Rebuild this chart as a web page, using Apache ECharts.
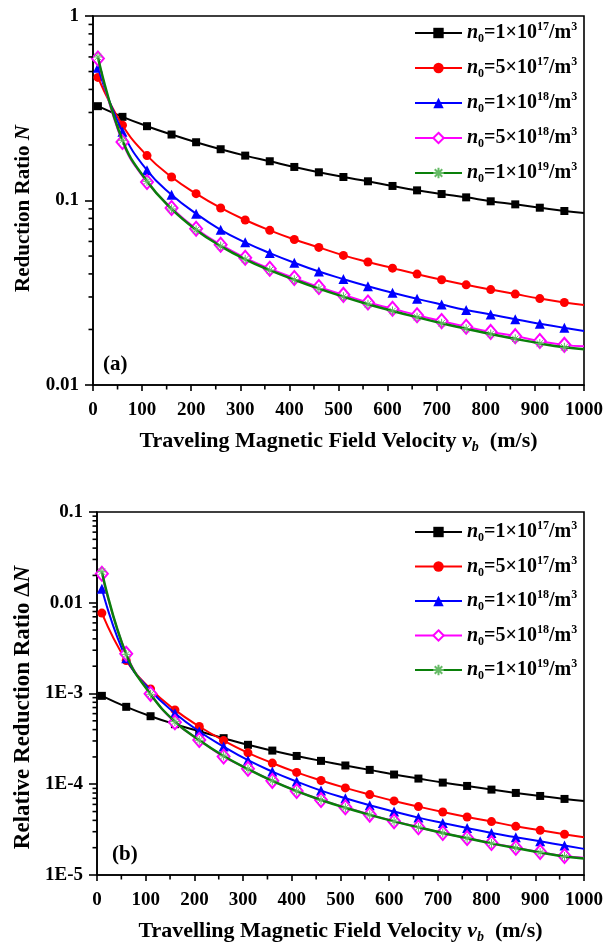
<!DOCTYPE html>
<html>
<head>
<meta charset="utf-8">
<script src="https://cdn.jsdelivr.net/npm/echarts@6/dist/echarts.min.js"></script>
<style>
  html, body { margin: 0; padding: 0; background: #fff; }
  #chart { width: 606px; height: 945px; }
</style>
</head>
<body>
<div id="chart"></div>
<script>
// Travelling magnetic field velocity v_b (m/s); markers every 50 m/s from 10, curve ends at 1000
const xValues = [10, 60, 110, 160, 210, 260, 310, 360, 410, 460, 510, 560, 610, 660, 710, 760, 810, 860, 910, 960, 1000];

// Legend entries: plasma density n0 (mantissa, exponent)
const densityMantissa = ['1', '5', '1', '5', '1'];
const densityExponent = ['17', '17', '18', '18', '19'];

// (a) Reduction ratio N
const ratioN_1e17 = [0.3245, 0.284, 0.2528, 0.2278, 0.2069, 0.1896, 0.1751, 0.1632, 0.1520, 0.1422, 0.1341, 0.1271, 0.1199, 0.1135, 0.1084, 0.1040, 0.0990, 0.0953, 0.0914, 0.0877, 0.0855];
const ratioN_5e17 = [0.4645, 0.256, 0.1751, 0.1341, 0.1089, 0.0911, 0.0784, 0.0689, 0.0615, 0.0557, 0.0504, 0.0464, 0.0430, 0.0399, 0.0372, 0.0349, 0.0329, 0.0311, 0.0294, 0.0280, 0.0271];
const ratioN_1e18 = [0.524, 0.2355, 0.1458, 0.1075, 0.0848, 0.0694, 0.0593, 0.0519, 0.0460, 0.0412, 0.0375, 0.0343, 0.0316, 0.0293, 0.0273, 0.0255, 0.0241, 0.0227, 0.0215, 0.0204, 0.0196];
const ratioN_5e18 = [0.589, 0.2077, 0.126, 0.0911, 0.0703, 0.0576, 0.0489, 0.0427, 0.0380, 0.0340, 0.0308, 0.0280, 0.0259, 0.0239, 0.0222, 0.0207, 0.0194, 0.0184, 0.0173, 0.0165, 0.0162];
const ratioN_1e19 = [0.600, 0.212, 0.127, 0.0900, 0.0693, 0.0566, 0.0480, 0.0419, 0.0372, 0.0333, 0.0301, 0.0274, 0.0252, 0.0233, 0.0216, 0.0202, 0.0189, 0.0178, 0.0168, 0.0160, 0.0156];

// (b) Relative reduction ratio ΔN
const deltaN_1e17 = [9.42e-4, 7.13e-4, 5.62e-4, 4.59e-4, 3.84e-4, 3.22e-4, 2.72e-4, 2.35e-4, 2.05e-4, 1.81e-4, 1.61e-4, 1.44e-4, 1.28e-4, 1.155e-4, 1.043e-4, 9.58e-5, 8.73e-5, 8.02e-5, 7.43e-5, 6.89e-5, 6.55e-5];
const deltaN_5e17 = [7.69e-3, 2.31e-3, 1.12e-3, 6.6e-4, 4.33e-4, 3.03e-4, 2.22e-4, 1.71e-4, 1.35e-4, 1.10e-4, 9.12e-5, 7.69e-5, 6.55e-5, 5.67e-5, 4.95e-5, 4.36e-5, 3.88e-5, 3.44e-5, 3.11e-5, 2.81e-5, 2.60e-5];
const deltaN_1e18 = [1.427e-2, 2.45e-3, 1.08e-3, 6.07e-4, 3.81e-4, 2.60e-4, 1.84e-4, 1.38e-4, 1.07e-4, 8.51e-5, 7.01e-5, 5.87e-5, 5.0e-5, 4.29e-5, 3.75e-5, 3.30e-5, 2.90e-5, 2.60e-5, 2.35e-5, 2.11e-5, 1.94e-5];
const deltaN_5e18 = [2.09e-2, 2.74e-3, 9.91e-4, 4.83e-4, 3.08e-4, 2.02e-4, 1.48e-4, 1.09e-4, 8.44e-5, 6.71e-5, 5.57e-5, 4.63e-5, 3.91e-5, 3.36e-5, 2.90e-5, 2.56e-5, 2.25e-5, 2.0e-5, 1.79e-5, 1.62e-5, 1.55e-5];
const deltaN_1e19 = [2.2e-2, 2.7e-3, 9.8e-4, 4.9e-4, 3.05e-4, 2.05e-4, 1.47e-4, 1.09e-4, 8.4e-5, 6.7e-5, 5.5e-5, 4.6e-5, 3.9e-5, 3.35e-5, 2.9e-5, 2.54e-5, 2.23e-5, 1.98e-5, 1.77e-5, 1.60e-5, 1.52e-5];

// Decade tick labels, lowest first
const topTickLabels = ['0.01', '0.1', '1'];
const bottomTickLabels = ['1E-5', '1E-4', '1E-3', '0.01', '0.1'];
const xTickStep = 100;

const SERIF = '"Liberation Serif", "Times New Roman", serif';
const asterisk = 'path://M0,-5L0,5M-5,0L5,0M-3.6,-3.6L3.6,3.6M-3.6,3.6L3.6,-3.6';

const styles = [
  { color: '#000000', symbol: 'rect', symbolSize: 8, width: 2 },
  { color: '#ff0000', symbol: 'circle', symbolSize: 9, width: 2 },
  { color: '#0000ff', symbol: 'triangle', symbolSize: 10, width: 2 },
  { color: '#ff00ff', symbol: 'emptyDiamond', symbolSize: [12, 14], width: 2 },
  { color: '#0a800a', symbol: asterisk, symbolSize: 9, width: 2.5, markColor: '#66bb66' }
];

const seriesNames = densityMantissa.map((m, i) => 'n0=' + m + '×10^' + densityExponent[i] + '/m^3');

function richName(name) {
  const i = seriesNames.indexOf(name);
  return '{i|n}{sub|0}{t|=' + densityMantissa[i] + '×10}{sup|' + densityExponent[i] + '}{t|/m}{sup|3}';
}

const richText = {
  t: { fontFamily: SERIF, fontWeight: 'bold', fontSize: 20, color: '#000', lineHeight: 24 },
  i: { fontFamily: SERIF, fontWeight: 'bold', fontStyle: 'italic', fontSize: 20, color: '#000', lineHeight: 24 },
  sup: { fontFamily: SERIF, fontWeight: 'bold', fontSize: 12, color: '#000', verticalAlign: 'top', lineHeight: 11 },
  sub: { fontFamily: SERIF, fontWeight: 'bold', fontSize: 12, color: '#000', verticalAlign: 'bottom', lineHeight: 11 }
};

function nameRich(size) {
  return {
    t: { fontFamily: SERIF, fontWeight: 'bold', fontSize: size, color: '#000', lineHeight: 26 },
    i: { fontFamily: SERIF, fontWeight: 'bold', fontStyle: 'italic', fontSize: size, color: '#000', lineHeight: 26 },
    sub: { fontFamily: SERIF, fontWeight: 'bold', fontStyle: 'italic', fontSize: 14, color: '#000', verticalAlign: 'bottom', lineHeight: 13 }
  };
}

function decadeLabel(labels, lowExp) {
  return function (v) {
    const e = Math.round(Math.log10(v));
    return labels[e - lowExp] || '';
  };
}

function makeSeries(values, idx, gridIdx) {
  const s = styles[idx];
  const data = values.map((v, j) => {
    const item = { value: [xValues[j], v] };
    if (j === values.length - 1) item.symbol = 'none';
    return item;
  });
  return {
    name: seriesNames[idx],
    type: 'line',
    xAxisIndex: gridIdx,
    yAxisIndex: gridIdx,
    data: data,
    smooth: 0.45,
    showAllSymbol: true,
    symbol: s.symbol,
    symbolSize: s.symbolSize,
    lineStyle: { color: s.color, width: s.width },
    itemStyle: s.markColor
      ? { color: s.markColor, borderColor: s.markColor, borderWidth: 1 }
      : { color: s.color, borderColor: s.color, borderWidth: idx === 3 ? 1.2 : 0 },
    emphasis: { disabled: true },
    animation: false,
    z: 2 + idx
  };
}

const axisLine = { show: true, lineStyle: { color: '#000', width: 1.6 } };
const labelFont = { fontFamily: SERIF, fontWeight: 'bold', fontSize: 19, color: '#000' };

function xAxisFor(gridIdx, title) {
  return {
    type: 'value', gridIndex: gridIdx, min: 0, max: 1000, interval: xTickStep,
    axisLine: axisLine,
    axisTick: { show: true, length: 6, lineStyle: { color: '#000', width: 1.6 } },
    splitLine: { show: false },
    axisLabel: Object.assign({ margin: 16, formatter: v => String(v) }, labelFont),
    name: title, nameLocation: 'middle', nameGap: 43,
    nameTextStyle: { rich: nameRich(22) }
  };
}

function yAxisFor(gridIdx, lo, hi, labels, title, gap, size, shift) {
  const lowExp = Math.round(Math.log10(lo));
  return {
    type: 'log', logBase: 10, gridIndex: gridIdx, min: lo, max: hi, position: 'left',
    axisLine: axisLine,
    axisTick: { show: true, length: 8, lineStyle: { color: '#000', width: 1.6 } },
    splitLine: { show: false },
    axisLabel: Object.assign({ margin: 14, formatter: decadeLabel(labels, lowExp) }, labelFont),
    name: title, nameLocation: 'middle', nameGap: gap, nameRotate: 90,
    nameTextStyle: { rich: nameRich(size), padding: [0, shift, 0, 0] }
  };
}

const topSeries = [ratioN_1e17, ratioN_5e17, ratioN_1e18, ratioN_5e18, ratioN_1e19];
const bottomSeries = [deltaN_1e17, deltaN_5e17, deltaN_1e18, deltaN_5e18, deltaN_1e19];

const legendBase = {
  orient: 'vertical', itemWidth: 47, itemHeight: 13, itemGap: 11, padding: 0,
  data: seriesNames, formatter: richName,
  textStyle: { rich: richText },
  selectedMode: false
};

const panelLabels = [
  { type: 'text', left: 103, top: 354, style: { text: '(a)', font: 'bold 21px ' + SERIF, fill: '#000' } },
  { type: 'text', left: 112, top: 844, style: { text: '(b)', font: 'bold 21px ' + SERIF, fill: '#000' } }
];

const chart = echarts.init(document.getElementById('chart'), null, { renderer: 'canvas' });
chart.setOption({
  backgroundColor: '#ffffff',
  animation: false,
  grid: [
    { left: 93, right: 20, top: 16, height: 369, show: true, borderColor: '#000', borderWidth: 1.6, backgroundColor: 'transparent' },
    { left: 97, right: 19, top: 512, height: 364, show: true, borderColor: '#000', borderWidth: 1.6, backgroundColor: 'transparent' }
  ],
  legend: [
    Object.assign({}, legendBase, { left: 414, top: 21 }),
    Object.assign({}, legendBase, { left: 414, top: 520, itemGap: 10.5 })
  ],
  xAxis: [
    xAxisFor(0, '{t|Traveling Magnetic Field Velocity }{i|v}{sub|b}{t|  (m/s)}'),
    xAxisFor(1, '{t|Travelling Magnetic Field Velocity }{i|v}{sub|b}{t|  (m/s)}')
  ],
  yAxis: [
    yAxisFor(0, 0.01, 1, topTickLabels, '{t|Reduction Ratio }{i|N}', 56, 21, 16),
    yAxisFor(1, 1e-5, 0.1, bottomTickLabels, '{t|Relative Reduction Ratio Δ}{i|N}', 60, 23, 28)
  ],
  graphic: { elements: panelLabels },
  series: [].concat(
    topSeries.map((v, i) => makeSeries(v, i, 0)),
    bottomSeries.map((v, i) => makeSeries(v, i, 1))
  )
});

// Minor tick marks (half-step on x, 2..9 per decade on log y), placed through the series' cartesian
function tickLine(x1, y1, x2, y2) {
  return {
    type: 'line', silent: true, z: 100, zlevel: 1,
    shape: { x1: x1, y1: y1, x2: x2, y2: y2 },
    style: { stroke: '#000', lineWidth: 1.6 }
  };
}

function minorTicks(seriesIdx, lo, hi) {
  const out = [];
  const finder = { seriesIndex: seriesIdx };
  for (let v = xTickStep / 2; v < 1000; v += xTickStep) {
    const p = chart.convertToPixel(finder, [v, lo]);
    if (p && isFinite(p[0])) out.push(tickLine(p[0], p[1], p[0], p[1] + 4.5));
  }
  const lowExp = Math.round(Math.log10(lo));
  const highExp = Math.round(Math.log10(hi));
  for (let e = lowExp; e < highExp; e++) {
    for (let k = 2; k <= 9; k++) {
      const p = chart.convertToPixel(finder, [0, k * Math.pow(10, e)]);
      if (p && isFinite(p[1])) out.push(tickLine(p[0] - 4.5, p[1], p[0], p[1]));
    }
  }
  return out;
}

let tickElements = [];
try {
  tickElements = minorTicks(0, 0.01, 1).concat(minorTicks(5, 1e-5, 0.1));
} catch (err) {
  tickElements = [];
}
chart.setOption({ graphic: { elements: panelLabels.concat(tickElements) } });
</script>
</body>
</html>
